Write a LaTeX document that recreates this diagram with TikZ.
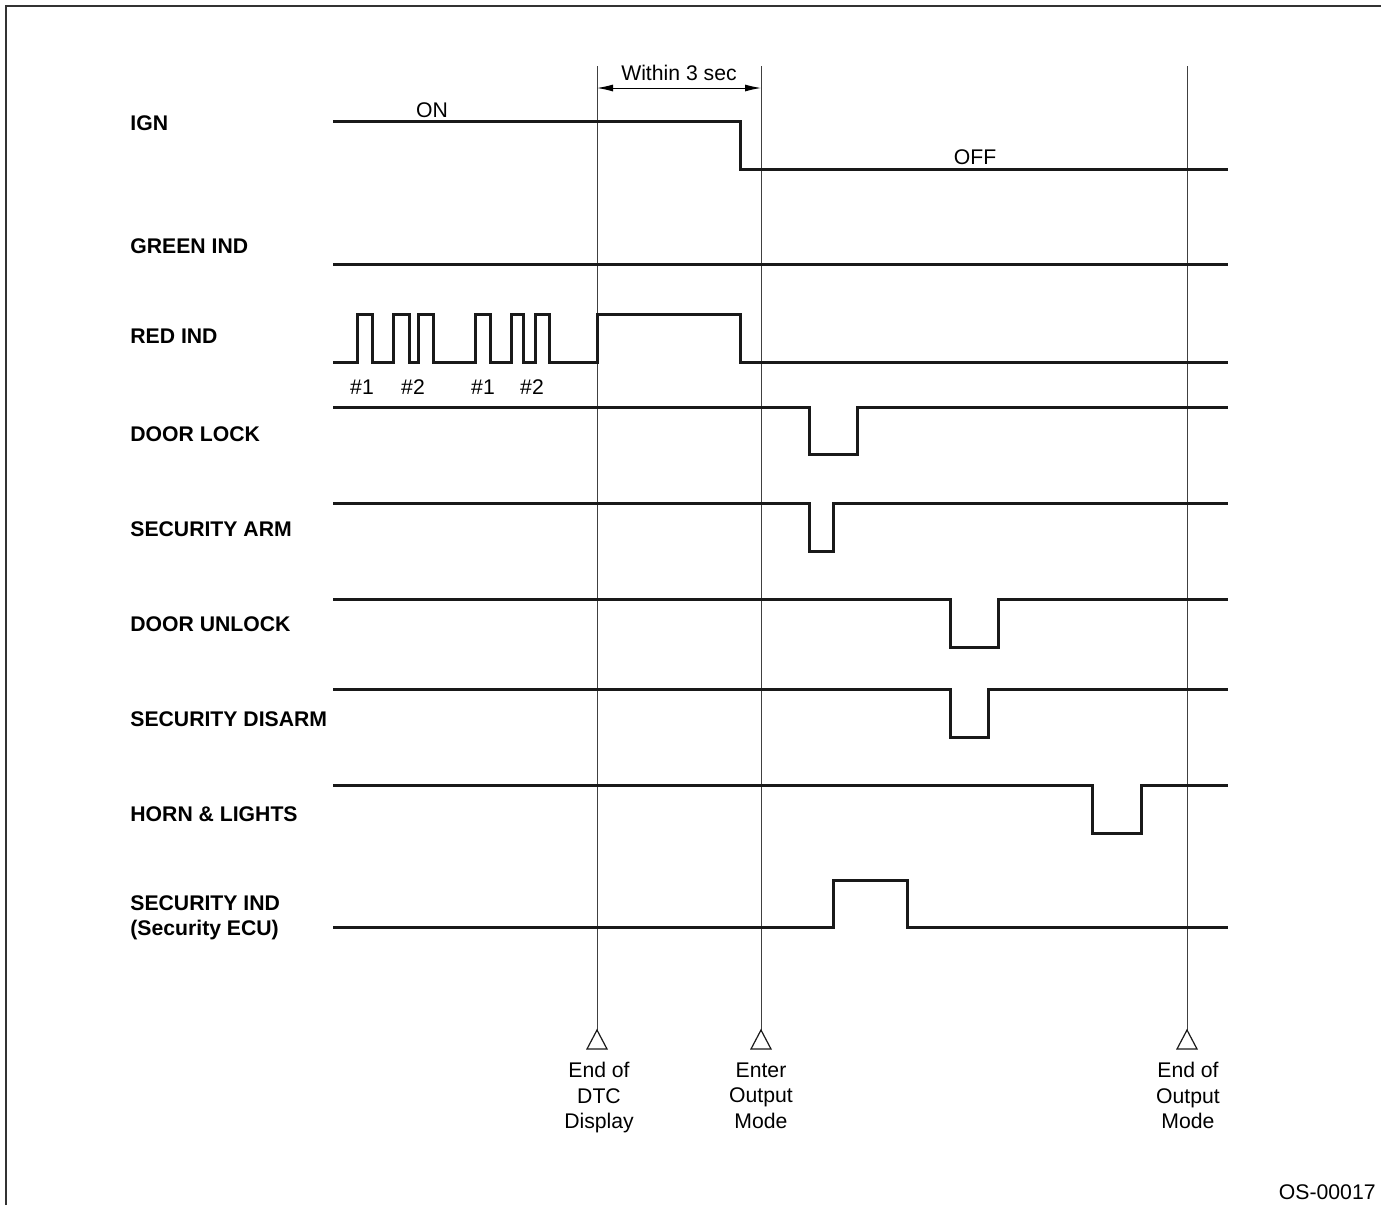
\documentclass[tikz,border=0pt]{standalone}
\usepackage{fontspec}
\setmainfont{Liberation Sans}
\usetikzlibrary{arrows.meta}
\begin{document}
\begin{tikzpicture}[x=0.5pt, y=-0.5pt,
  sig/.style={line width=1.5pt, line join=miter, black!90},
  guide/.style={line width=0.5pt, black!75},
  lbl/.style={font=\fontsize{10.6}{12.5}\selectfont\bfseries, anchor=west, inner sep=0pt, align=left},
  note/.style={font=\fontsize{10.6}{12.75}\selectfont, inner sep=0pt, align=center},
  trimark/.style={line width=0.6pt, black!90}]
\useasboundingbox (0,0) rectangle (1381,1205);
% frame
\draw[line width=1pt, black!80] (6,1205) -- (6,6) -- (1381,6);

% signal names
\node[lbl] (ign) at (130,123) {IGN};
\node[lbl] (green) at (130,246) {GREEN IND};
\node[lbl] (red) at (130,336) {RED IND};
\node[lbl] (lock) at (130,434) {DOOR LOCK};
\node[lbl] (arm) at (130,529) {SECURITY ARM};
\node[lbl] (unlock) at (130,624) {DOOR UNLOCK};
\node[lbl] (disarm) at (130,719) {SECURITY DISARM};
\node[lbl] (horn) at (130,814) {HORN \& LIGHTS};
\node[lbl] (secind) at (130,918) {SECURITY IND\\(Security ECU)};

% guide lines and marks
\foreach \x/\n in {597/dtc, 761/enter, 1187/endout} {
  \coordinate (\n top) at (\x,66);
  \coordinate (\n) at (\x,1030);
  \draw[guide] (\n top) -- (\n);
  \draw[trimark] (\n) -- ++(10,19) -- ++(-20,0) -- cycle;
}
\node[note, anchor=north] (dtcnote) at (599,1062) {End of\\DTC\\Display};
\node[note, anchor=north] (enternote) at (761,1062) {Enter\\Output\\Mode};
\node[note, anchor=north] (endnote) at (1188,1062) {End of\\Output\\Mode};

% within 3 sec
\coordinate (w1) at (597,88);
\coordinate (w2) at (761,88);
\draw[line width=0.5pt, {Latex[length=8pt,width=3.5pt]}-{Latex[length=8pt,width=3.5pt]}] (w1) -- (w2);
\node[note, anchor=base] (within) at (679,80) {Within 3 sec};

% waveforms
\draw[sig] (333,121) -- (740,121) -- (740,169) -- (1228,169);
\node[note, anchor=base] (on) at (432,117) {ON};
\node[note, anchor=base] (off) at (975,164) {OFF};
\draw[sig] (333,264) -- (1228,264);
\draw[sig] (333,362) foreach \a/\b in {357/372, 393/409, 418/433, 475/490, 511/523, 535/549, 597/740} {
  -- (\a,362) -- (\a,314) -- (\b,314) -- (\b,362) } -- (1228,362);
\foreach \x/\t [count=\i] in {362/1, 413/2, 483/1, 532/2}
  \node[note, anchor=base] (num\i) at (\x,394) {\#\t};
\draw[sig] (333,407) -- (809,407) -- (809,454) -- (857,454) -- (857,407) -- (1228,407);
\draw[sig] (333,503) -- (809,503) -- (809,551) -- (833,551) -- (833,503) -- (1228,503);
\draw[sig] (333,599) -- (950,599) -- (950,647) -- (998,647) -- (998,599) -- (1228,599);
\draw[sig] (333,689) -- (950,689) -- (950,737) -- (988,737) -- (988,689) -- (1228,689);
\draw[sig] (333,785) -- (1092,785) -- (1092,833) -- (1141,833) -- (1141,785) -- (1228,785);
\draw[sig] (333,927) -- (833,927) -- (833,880) -- (907,880) -- (907,927) -- (1228,927);

\node[note, anchor=base east] (code) at (1376,1199) {OS-00017};
\end{tikzpicture}
\end{document}
